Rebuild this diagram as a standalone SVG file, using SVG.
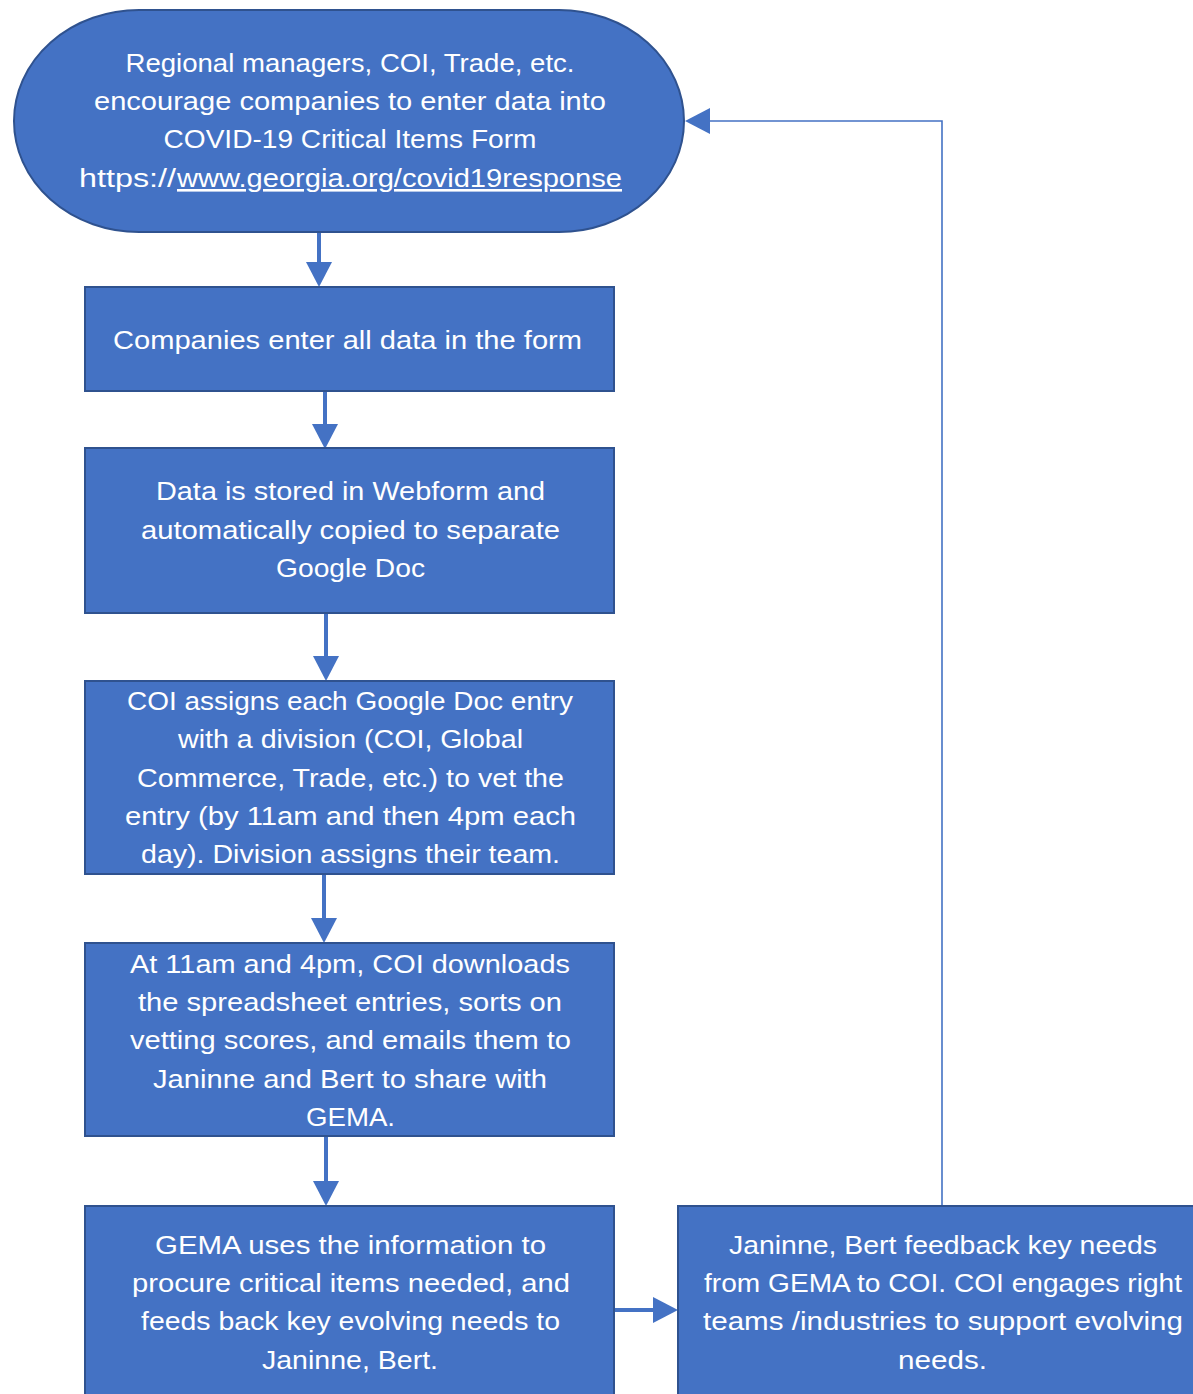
<svg xmlns="http://www.w3.org/2000/svg" width="1193" height="1394" viewBox="0 0 1193 1394">
<style>
.n{fill:#4472C4;stroke:#2F528F;stroke-width:2}
.t{font-family:"Liberation Sans",Arial,sans-serif;font-size:26px;fill:#ffffff;text-anchor:middle}
.s{text-anchor:start}
.c{stroke:#4472C4;stroke-width:4;fill:none}
.f{stroke:#4472C4;stroke-width:1.6;fill:none}
.ah{fill:#4472C4}
</style>
<rect width="1193" height="1394" fill="#ffffff"/>
<g id="connectors">
<line class="c" x1="319" y1="233" x2="319" y2="262"/>
<polygon class="ah" points="306,262 332,262 319,287"/>
<line class="c" x1="325" y1="392" x2="325" y2="424"/>
<polygon class="ah" points="312,424 338,424 325,449"/>
<line class="c" x1="326" y1="614" x2="326" y2="656"/>
<polygon class="ah" points="313,656 339,656 326,681"/>
<line class="c" x1="324" y1="875" x2="324" y2="918"/>
<polygon class="ah" points="311,918 337,918 324,943"/>
<line class="c" x1="326" y1="1137" x2="326" y2="1181"/>
<polygon class="ah" points="313,1181 339,1181 326,1206"/>
<line class="c" x1="615" y1="1310" x2="653" y2="1310"/>
<polygon class="ah" points="653,1297 653,1323 678,1310"/>
<polyline class="f" points="942,1206 942,121 709,121"/>
<polygon class="ah" points="710,108 710,134 685,121"/>
</g>
<g id="n1">
<rect class="n" x="14" y="10" width="670" height="222" rx="125" ry="111"/>
<text class="t" x="350" y="72" textLength="449" lengthAdjust="spacingAndGlyphs">Regional managers, COI, Trade, etc.</text>
<text class="t" x="350" y="110" textLength="512" lengthAdjust="spacingAndGlyphs">encourage companies to enter data into</text>
<text class="t" x="350" y="148" textLength="373" lengthAdjust="spacingAndGlyphs">COVID-19 Critical Items Form</text>
<text class="t s" x="79" y="187" textLength="97" lengthAdjust="spacingAndGlyphs">https://</text>
<text class="t s" x="177" y="187" textLength="445" lengthAdjust="spacingAndGlyphs" text-decoration="underline">www.georgia.org/covid19response</text>
</g>
<g id="n2">
<rect class="n" x="85" y="287" width="529" height="104"/>
<text class="t" x="347.5" y="349" textLength="469" lengthAdjust="spacingAndGlyphs">Companies enter all data in the form</text>
</g>
<g id="n3">
<rect class="n" x="85" y="448" width="529" height="165"/>
<text class="t" x="350.5" y="500" textLength="389" lengthAdjust="spacingAndGlyphs">Data is stored in Webform and</text>
<text class="t" x="350.5" y="539" textLength="419" lengthAdjust="spacingAndGlyphs">automatically copied to separate</text>
<text class="t" x="350.5" y="577" textLength="149" lengthAdjust="spacingAndGlyphs">Google Doc</text>
</g>
<g id="n4">
<rect class="n" x="85" y="681" width="529" height="193"/>
<text class="t" x="350" y="710" textLength="446" lengthAdjust="spacingAndGlyphs">COI assigns each Google Doc entry</text>
<text class="t" x="350.5" y="748" textLength="345" lengthAdjust="spacingAndGlyphs">with a division (COI, Global</text>
<text class="t" x="350.5" y="787" textLength="427" lengthAdjust="spacingAndGlyphs">Commerce, Trade, etc.) to vet the</text>
<text class="t" x="350.5" y="825" textLength="451" lengthAdjust="spacingAndGlyphs">entry (by 11am and then 4pm each</text>
<text class="t" x="350.5" y="863" textLength="419" lengthAdjust="spacingAndGlyphs">day). Division assigns their team.</text>
</g>
<g id="n5">
<rect class="n" x="85" y="943" width="529" height="193"/>
<text class="t" x="350" y="973" textLength="440" lengthAdjust="spacingAndGlyphs">At 11am and 4pm, COI downloads</text>
<text class="t" x="350" y="1011" textLength="424" lengthAdjust="spacingAndGlyphs">the spreadsheet entries, sorts on</text>
<text class="t" x="350.5" y="1049" textLength="441" lengthAdjust="spacingAndGlyphs">vetting scores, and emails them to</text>
<text class="t" x="350" y="1088" textLength="394" lengthAdjust="spacingAndGlyphs">Janinne and Bert to share with</text>
<text class="t" x="350.5" y="1126" textLength="89" lengthAdjust="spacingAndGlyphs">GEMA.</text>
</g>
<g id="n6">
<rect class="n" x="85" y="1206" width="529" height="200"/>
<text class="t" x="350.5" y="1254" textLength="391" lengthAdjust="spacingAndGlyphs">GEMA uses the information to</text>
<text class="t" x="351" y="1292" textLength="438" lengthAdjust="spacingAndGlyphs">procure critical items needed, and</text>
<text class="t" x="350.5" y="1330" textLength="419" lengthAdjust="spacingAndGlyphs">feeds back key evolving needs to</text>
<text class="t" x="350" y="1369" textLength="176" lengthAdjust="spacingAndGlyphs">Janinne, Bert.</text>
</g>
<g id="n7">
<rect class="n" x="678" y="1206" width="530" height="200"/>
<text class="t" x="943" y="1254" textLength="428" lengthAdjust="spacingAndGlyphs">Janinne, Bert feedback key needs</text>
<text class="t" x="943" y="1292" textLength="478" lengthAdjust="spacingAndGlyphs">from GEMA to COI. COI engages right</text>
<text class="t" x="943" y="1330" textLength="480" lengthAdjust="spacingAndGlyphs">teams /industries to support evolving</text>
<text class="t" x="942.5" y="1369" textLength="89" lengthAdjust="spacingAndGlyphs">needs.</text>
</g>
</svg>
